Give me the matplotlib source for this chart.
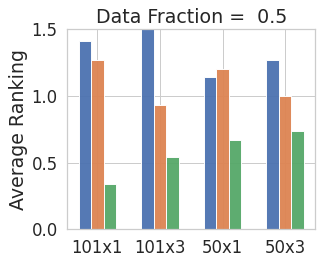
import matplotlib
matplotlib.use("Agg")
import matplotlib.pyplot as plt
import numpy as np
import seaborn as sns

sns.set_theme(style="whitegrid", font_scale=1.5)

# data
configs = ["101x1", "101x3", "50x1", "50x3"]
series_a = [1.41, 1.55, 1.14, 1.27]
series_b = [1.27, 0.935, 1.205, 1.00]
series_c = [0.34, 0.54, 0.67, 0.74]

fig, ax = plt.subplots(figsize=(322 / 72, 262 / 72), dpi=72)
fig.subplots_adjust(left=0.209, right=0.979, top=0.888, bottom=0.125)

x = np.arange(len(configs))
w = 0.2
pal = sns.color_palette("deep")
for i, vals in enumerate([series_a, series_b, series_c]):
    ax.bar(x + (i - 1) * w, vals, w, color=pal[i], edgecolor="white", alpha=0.95)

ax.set_xticks(x)
ax.set_xticklabels(configs)
ax.set_ylim(0, 1.5)
ax.set_yticks([0.0, 0.5, 1.0, 1.5])
ax.set_ylabel("Average Ranking", fontsize=19)
ax.set_title("Data Fraction =  0.5", fontsize=19)

fig.savefig("out.png", dpi=72)
